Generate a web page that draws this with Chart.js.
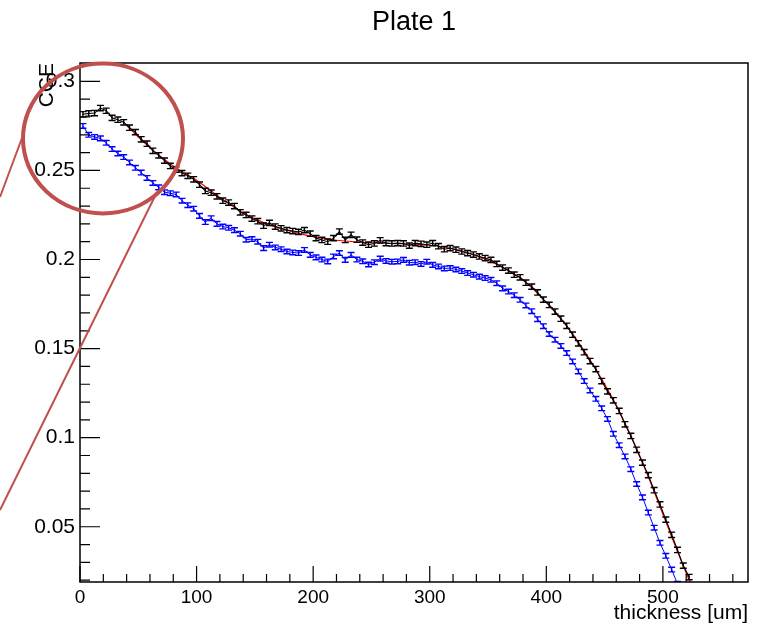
<!DOCTYPE html>
<html>
<head>
<meta charset="utf-8">
<script src="https://cdn.jsdelivr.net/npm/chart.js@4.4.1/dist/chart.umd.min.js"></script>
<style>
html,body{margin:0;padding:0;background:#fff;}
#c{display:block;}
</style>
</head>
<body>
<canvas id="c" width="769" height="629"></canvas>
<script>
// ---- data ----
const chartTitle = "Plate 1";
const xTitle = "thickness [um]";
const yTitle = "CCE";
const xTickValues = [0, 100, 200, 300, 400, 500];
const xTickLabels = ["0", "100", "200", "300", "400", "500"];
const yTickValues = [0.05, 0.1, 0.15, 0.2, 0.25, 0.3];
const yTickLabels = ["0.05", "0.1", "0.15", "0.2", "0.25", "0.3"];

const thickness = [
  2.5, 7.5, 12.5, 17.5, 22.5, 27.5, 32.5, 37.5, 42.5, 47.5,
  52.5, 57.5, 62.5, 67.5, 72.5, 77.5, 82.5, 87.5, 92.5, 97.5,
  102.5, 107.5, 112.5, 117.5, 122.5, 127.5, 132.5, 137.5, 142.5, 147.5,
  152.5, 157.5, 162.5, 167.5, 172.5, 177.5, 182.5, 187.5, 192.5, 197.5,
  202.5, 207.5, 212.5, 217.5, 222.5, 227.5, 232.5, 237.5, 242.5, 247.5,
  252.5, 257.5, 262.5, 267.5, 272.5, 277.5, 282.5, 287.5, 292.5, 297.5,
  302.5, 307.5, 312.5, 317.5, 322.5, 327.5, 332.5, 337.5, 342.5, 347.5,
  352.5, 357.5, 362.5, 367.5, 372.5, 377.5, 382.5, 387.5, 392.5, 397.5,
  402.5, 407.5, 412.5, 417.5, 422.5, 427.5, 432.5, 437.5, 442.5, 447.5,
  452.5, 457.5, 462.5, 467.5, 472.5, 477.5, 482.5, 487.5, 492.5, 497.5,
  502.5, 507.5, 512.5, 517.5, 522.5
];

const cceBlack = [
  0.2815, 0.2820, 0.2822, 0.2850, 0.2835, 0.2795, 0.2785, 0.2770, 0.2740, 0.2715,
  0.2675, 0.2650, 0.2610, 0.2585, 0.2555, 0.2525, 0.2505, 0.2485, 0.2470, 0.2450,
  0.2420, 0.2385, 0.2375, 0.2355, 0.2330, 0.2320, 0.2300, 0.2265, 0.2250, 0.2230,
  0.2215, 0.2190, 0.2205, 0.2185, 0.2175, 0.2165, 0.2160, 0.2155, 0.2165, 0.2145,
  0.2120, 0.2110, 0.2100, 0.2120, 0.2157, 0.2110, 0.2139, 0.2111, 0.2095, 0.2083,
  0.2090, 0.2108, 0.2092, 0.2090, 0.2092, 0.2090, 0.2078, 0.2092, 0.2088, 0.2083,
  0.2092, 0.2075, 0.2058, 0.2064, 0.2055, 0.2045, 0.2036, 0.2028, 0.2017, 0.2008,
  0.1998, 0.1975, 0.1955, 0.1938, 0.1915, 0.1900, 0.1870, 0.1848, 0.1815, 0.1775,
  0.1745, 0.1708, 0.1668, 0.1628, 0.1578, 0.1530, 0.1480, 0.1430, 0.1385, 0.1318,
  0.1260, 0.1210, 0.1150, 0.1075, 0.1010, 0.0932, 0.0860, 0.0790, 0.0705, 0.0625,
  0.0540, 0.0455, 0.0370, 0.0282, 0.0218
];

const cceBlue = [
  0.2750, 0.2700, 0.2688, 0.2680, 0.2655, 0.2620, 0.2595, 0.2575, 0.2545, 0.2515,
  0.2488, 0.2458, 0.2430, 0.2405, 0.2378, 0.2372, 0.2365, 0.2330, 0.2305, 0.2285,
  0.2245, 0.2210, 0.2232, 0.2200, 0.2185, 0.2178, 0.2165, 0.2145, 0.2111, 0.2115,
  0.2100, 0.2064, 0.2083, 0.2068, 0.2058, 0.2045, 0.2040, 0.2036, 0.2054, 0.2026,
  0.2012, 0.2000, 0.1989, 0.2017, 0.2036, 0.1998, 0.2026, 0.2000, 0.1990, 0.1972,
  0.1985, 0.2005, 0.1992, 0.1988, 0.1989, 0.1998, 0.1982, 0.1985, 0.1975, 0.1988,
  0.1970, 0.1961, 0.1950, 0.1952, 0.1944, 0.1935, 0.1924, 0.1915, 0.1904, 0.1896,
  0.1886, 0.1867, 0.1838, 0.1820, 0.1800, 0.1774, 0.1742, 0.1710, 0.1665, 0.1626,
  0.1582, 0.1550, 0.1515, 0.1475, 0.1428, 0.1372, 0.1318, 0.1265, 0.1218, 0.1165,
  0.1105, 0.1022, 0.0958, 0.0895, 0.0823, 0.0740, 0.0665, 0.0580, 0.0495, 0.0410,
  0.0337, 0.0260, 0.0180
];

const blackErr = 0.0015;
const blueErr = 0.0013;

const fitThickness = [40, 60, 80, 100, 120, 140, 160, 180, 200, 220, 240, 260, 280, 300, 320, 340, 360, 380, 400, 420, 440, 460, 480, 500, 520, 527];
const fitCCE = [0.2752, 0.2628, 0.2525, 0.2445, 0.2348, 0.2262, 0.2200, 0.2160, 0.2128, 0.2108, 0.2098, 0.2092, 0.2087, 0.2080, 0.2060, 0.2022, 0.1965, 0.1885, 0.1758, 0.1605, 0.1410, 0.1180, 0.0900, 0.0570, 0.0240, 0.0140];

// ---- chart ----
const FONT = "'Liberation Sans', Arial, Helvetica, sans-serif";

function pts(xs, ys) { return ys.map((y, i) => ({ x: xs[i], y: y })); }

const rootStyle = {
  id: 'rootStyle',
  afterDatasetsDraw(chart) {
    const ctx = chart.ctx, a = chart.chartArea;
    const xs = chart.scales.x, ys = chart.scales.y;
    // error bars
    ctx.save();
    ctx.beginPath();
    ctx.rect(a.left, a.top, a.right - a.left, a.bottom - a.top);
    ctx.clip();
    chart.data.datasets.forEach(ds => {
      if (!ds.errY) return;
      ctx.strokeStyle = ds.borderColor;
      ctx.lineWidth = 1.4;
      ds.data.forEach(p => {
        const px = xs.getPixelForValue(p.x);
        const y1 = ys.getPixelForValue(p.y + ds.errY);
        const y2 = ys.getPixelForValue(p.y - ds.errY);
        ctx.beginPath();
        ctx.moveTo(px, y1); ctx.lineTo(px, y2);
        ctx.moveTo(px - 3.5, y1); ctx.lineTo(px + 3.5, y1);
        ctx.moveTo(px - 3.5, y2); ctx.lineTo(px + 3.5, y2);
        ctx.stroke();
      });
    });
    ctx.restore();
  },
  afterDraw(chart) {
    const ctx = chart.ctx, a = chart.chartArea;
    const xs = chart.scales.x, ys = chart.scales.y;
    ctx.save();
    // frame
    ctx.strokeStyle = '#000';
    ctx.lineWidth = 1.5;
    ctx.strokeRect(a.left, a.top, a.right - a.left, a.bottom - a.top);
    // ticks (inside)
    ctx.lineWidth = 1.2;
    ctx.beginPath();
    for (let v = 0; v <= 560; v += 20) {
      const px = xs.getPixelForValue(v);
      const len = (v % 100 === 0) ? 16 : 8;
      ctx.moveTo(px, a.bottom); ctx.lineTo(px, a.bottom - len);
    }
    for (let k = 2; k <= 30; k++) {
      const py = ys.getPixelForValue(k / 100);
      const len = (k % 5 === 0) ? 20 : 10;
      ctx.moveTo(a.left, py); ctx.lineTo(a.left + len, py);
    }
    ctx.stroke();
    // titles
    ctx.fillStyle = '#000';
    ctx.font = '27px ' + FONT;
    ctx.textAlign = 'center';
    ctx.textBaseline = 'alphabetic';
    ctx.fillText(chartTitle, (a.left + a.right) / 2, 30);
    ctx.font = '21px ' + FONT;
    ctx.textAlign = 'right';
    ctx.fillText(xTitle, a.right, 619);
    ctx.save();
    ctx.translate(53, a.top);
    ctx.rotate(-Math.PI / 2);
    ctx.font = '21px ' + FONT;
    ctx.textAlign = 'right';
    ctx.fillText(yTitle, 0, 0);
    ctx.restore();
    // annotation callout
    ctx.strokeStyle = '#c0504d';
    ctx.lineWidth = 4;
    ctx.beginPath();
    ctx.ellipse(103, 138.5, 80, 75, 0, 0, Math.PI * 2);
    ctx.stroke();
    ctx.lineWidth = 2;
    ctx.beginPath();
    ctx.moveTo(22, 138); ctx.lineTo(0, 197);
    ctx.moveTo(157, 192); ctx.lineTo(0, 510);
    ctx.stroke();
    ctx.restore();
  }
};

new Chart(document.getElementById('c'), {
  type: 'scatter',
  data: {
    datasets: [
      { label: 'fit', data: pts(fitThickness, fitCCE), showLine: true, borderColor: '#ff0000', borderWidth: 1.2, pointRadius: 0, tension: 0.4, order: 3 },
      { label: 'Plate 1', data: pts(thickness, cceBlack), showLine: true, borderColor: '#000000', borderWidth: 1.1, pointRadius: 0, tension: 0, order: 1, errY: blackErr },
      { label: 'Plate 1 (2)', data: pts(thickness.slice(0, cceBlue.length), cceBlue), showLine: true, borderColor: '#0000ff', borderWidth: 1, pointRadius: 0, tension: 0, order: 2, errY: blueErr }
    ]
  },
  options: {
    responsive: false,
    animation: false,
    layout: { padding: { top: 63, right: 21, left: 0, bottom: 0 } },
    plugins: { legend: { display: false }, tooltip: { enabled: false }, title: { display: false } },
    scales: {
      x: {
        type: 'linear', min: 0, max: 573,
        grid: { display: false, drawTicks: false },
        border: { display: false },
        afterBuildTicks: s => { s.ticks = xTickValues.map(v => ({ value: v })); },
        afterFit: s => { s.height = 47; },
        ticks: { padding: 4, color: '#000', font: { family: FONT, size: 19 }, maxRotation: 0, autoSkip: false,
          callback: (v) => xTickLabels[xTickValues.indexOf(v)] }
      },
      y: {
        type: 'linear', min: 0.019, max: 0.3103,
        grid: { display: false, drawTicks: false },
        border: { display: false },
        afterBuildTicks: s => { s.ticks = yTickValues.map(v => ({ value: v })); },
        afterFit: s => { s.width = 80; },
        ticks: { padding: 5, color: '#000', font: { family: FONT, size: 21 }, autoSkip: false,
          callback: (v) => { const i = yTickValues.findIndex(t => Math.abs(t - v) < 1e-9); return yTickLabels[i]; } }
      }
    }
  },
  plugins: [rootStyle]
});
</script>
</body>
</html>
